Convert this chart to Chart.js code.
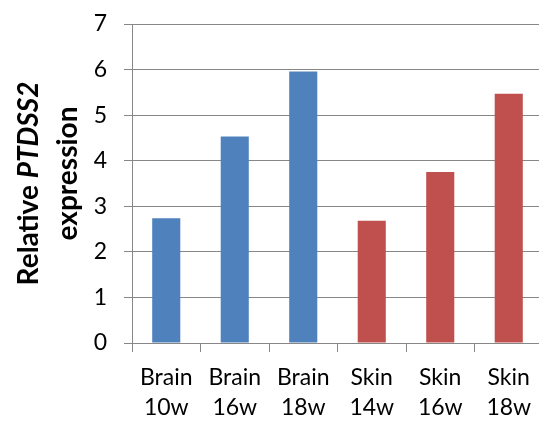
<!DOCTYPE html>
<html>
<head>
<meta charset="utf-8">
<script src="https://cdn.jsdelivr.net/npm/chart.js@4"></script>
<style>
    html, body { margin: 0; padding: 0; background: #fff; overflow: hidden; }
    #wrap { width: 546px; height: 421px; }
</style>
</head>
<body>
<div id="wrap"><canvas id="exprChart"></canvas></div>
<script>
// data
const tissues = ['Brain', 'Brain', 'Brain', 'Skin', 'Skin', 'Skin'];
const ages = ['10w', '16w', '18w', '14w', '16w', '18w'];
const expression = [2.74, 4.53, 5.96, 2.68, 3.75, 5.47];
const yTicks = [0, 1, 2, 3, 4, 5, 6, 7];

const BLUE = '#4F81BD';
const RED = '#C0504D';
const GRID = '#878787';
const FONT = 'Lato, "Liberation Sans", sans-serif';

document.addEventListener('DOMContentLoaded', function() {
    const ctx = document.getElementById('exprChart').getContext('2d');

    const labels = tissues.map((t, i) => [t, ages[i]]);
    const barColors = tissues.map(t => t === 'Brain' ? BLUE : RED);

    // rotated two-line y title, with the gene name in italics
    const yTitlePlugin = {
        id: 'yTitle',
        afterDraw(chart) {
            const c = chart.ctx;
            const area = chart.chartArea;
            const cy = (area.top + area.bottom) / 2;
            const size = 28;
            const plain = 'bold ' + size + 'px ' + FONT;
            const ital = 'italic bold ' + size + 'px ' + FONT;
            c.save();
            c.fillStyle = '#000';
            c.textBaseline = 'alphabetic';

            // line 1: "Relative PTDSS2"
            c.translate(38, cy);
            c.rotate(-Math.PI / 2);
            c.font = plain;
            const w1 = c.measureText('Relative ').width;
            c.font = ital;
            const w2 = c.measureText('PTDSS2').width;
            let x = -(w1 + w2) / 2;
            c.textAlign = 'left';
            c.font = plain;
            c.fillText('Relative ', x, 0);
            c.font = ital;
            c.fillText('PTDSS2', x + w1, 0);
            c.restore();

            // line 2: "expression"
            c.save();
            c.fillStyle = '#000';
            c.translate(77, cy - 10);
            c.rotate(-Math.PI / 2);
            c.font = plain;
            c.textAlign = 'center';
            c.fillText('expression', 0, 0);
            c.restore();
        }
    };

    new Chart(ctx, {
        type: 'bar',
        data: {
            labels: labels,
            datasets: [{
                data: expression,
                backgroundColor: barColors,
                borderWidth: 0,
                barPercentage: 0.41,
                categoryPercentage: 1
            }]
        },
        options: {
            responsive: true,
            maintainAspectRatio: false,
            animation: false,
            layout: {
                padding: { top: 24, right: 3, bottom: 0, left: 0 }
            },
            plugins: {
                legend: { display: false },
                tooltip: { enabled: false }
            },
            scales: {
                x: {
                    offset: true,
                    grid: {
                        offset: true,
                        drawOnChartArea: false,
                        color: GRID,
                        tickLength: 9
                    },
                    border: { color: GRID, width: 1 },
                    ticks: {
                        color: '#000',
                        font: { family: FONT, size: 23, lineHeight: 1.3 },
                        padding: 11,
                        maxRotation: 0,
                        autoSkip: false
                    },
                    afterFit: s => { s.height = 78; s.paddingRight = 0; }
                },
                y: {
                    min: 0,
                    max: 7,
                    grid: {
                        color: GRID,
                        tickLength: 8
                    },
                    border: { color: GRID, width: 1 },
                    afterBuildTicks: s => { s.ticks = yTicks.map(v => ({ value: v })); },
                    ticks: {
                        color: '#000',
                        font: { family: FONT, size: 23 },
                        padding: 17
                    },
                    afterFit: s => { s.width = 132; s.paddingTop = 0; s.paddingBottom = 0; }
                }
            }
        },
        plugins: [yTitlePlugin]
    });
});
</script>
</body>
</html>
